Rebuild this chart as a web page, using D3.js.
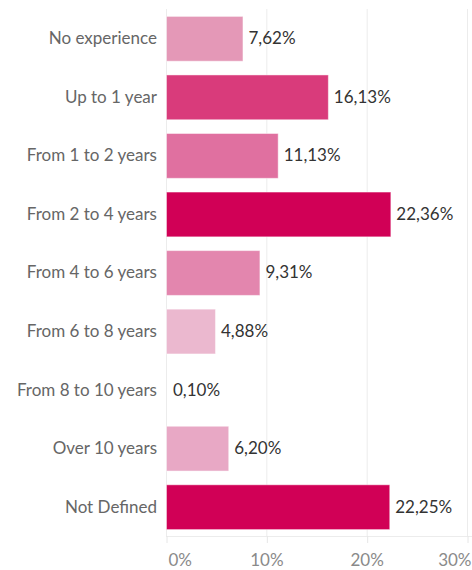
<!DOCTYPE html>
<html>
<head>
<meta charset="utf-8">
<script src="https://cdn.jsdelivr.net/npm/d3@7"></script>
<style>
  body { margin: 0; background: #fff; }
  svg text { font-family: Lato, "Open Sans", sans-serif; }
</style>
</head>
<body>
<div id="chart"></div>
<script>
// experience buckets, share of respondents (%)
var categories = ['No experience', 'Up to 1 year', 'From 1 to 2 years', 'From 2 to 4 years',
    'From 4 to 6 years', 'From 6 to 8 years', 'From 8 to 10 years', 'Over 10 years', 'Not Defined'];
var shares = [7.62, 16.13, 11.13, 22.36, 9.31, 4.88, 0.10, 6.20, 22.25];
var barColors = ['#e498b7', '#d93b7b', '#e070a0', '#d10056', '#e386ae', '#ebb8cf', '#edc3d6', '#e8a8c5', '#d10056'];
var xTicks = [0, 10, 20, 30];

var width = 472, height = 570;
var margin = { top: 9, right: 3, bottom: 34, left: 166 };

var locale = d3.formatLocale({ decimal: ',', thousands: '.', grouping: [3], currency: ['', ''] });
var fmt2 = locale.format('.2f');

var svg = d3.select('#chart').append('svg')
    .attr('width', width)
    .attr('height', height);

var x = d3.scaleLinear()
    .domain([0, 30])
    .range([margin.left, margin.left + 301]);

var y = d3.scaleBand()
    .domain(categories)
    .range([margin.top, height - margin.bottom])
    .paddingInner(0.235)
    .paddingOuter(0.118);

var g = svg.append('g');

// grid lines
g.selectAll('line.grid')
    .data(xTicks)
    .enter().append('line')
    .attr('class', 'grid')
    .attr('x1', function(d) { return x(d) + 0.5; })
    .attr('x2', function(d) { return x(d) + 0.5; })
    .attr('y1', margin.top)
    .attr('y2', height - margin.bottom)
    .attr('stroke', '#ececec')
    .attr('stroke-width', 1);

// baseline
g.append('line')
    .attr('x1', margin.left)
    .attr('x2', width)
    .attr('y1', height - margin.bottom + 0.5)
    .attr('y2', height - margin.bottom + 0.5)
    .attr('stroke', '#ececec');

// bars
g.selectAll('rect.bar')
    .data(shares)
    .enter().append('rect')
    .attr('class', 'bar')
    .attr('x', x(0) + 0.5)
    .attr('y', function(d, i) { return y(categories[i]) + 0.5; })
    .attr('width', function(d) { return d < 0.5 ? 0 : x(d) - x(0); })
    .attr('height', y.bandwidth())
    .attr('fill', function(d, i) { return barColors[i]; })
    .attr('stroke', 'rgba(255,255,255,0.45)')
    .attr('stroke-width', 1);

// value labels
g.selectAll('text.val')
    .data(shares)
    .enter().append('text')
    .attr('class', 'val')
    .attr('x', function(d) { return x(d) + 6; })
    .attr('y', function(d, i) { return y(categories[i]) + y.bandwidth() / 2; })
    .attr('dy', '0.35em')
    .attr('font-size', 17)
    .attr('fill', '#333')
    .text(function(d) { return fmt2(d) + '%'; });

// category labels
g.selectAll('text.cat')
    .data(categories)
    .enter().append('text')
    .attr('class', 'cat')
    .attr('x', margin.left - 9)
    .attr('y', function(d) { return y(d) + y.bandwidth() / 2; })
    .attr('dy', '0.35em')
    .attr('text-anchor', 'end')
    .attr('font-size', 17)
    .attr('fill', '#666')
    .text(function(d) { return d; });

// x axis
var xAxis = d3.axisBottom(x)
    .tickValues(xTicks)
    .tickSize(7)
    .tickFormat(function(d) { return d + '%'; });

var ax = svg.append('g')
    .attr('transform', 'translate(0,' + (height - margin.bottom) + ')')
    .call(xAxis);
ax.select('.domain').remove();
ax.selectAll('.tick line').attr('stroke', '#e6e6e6').attr('transform', 'translate(0.5,0)');
ax.selectAll('.tick text')
    .attr('y', 18)
    .attr('font-size', 17)
    .attr('fill', '#8a8a8a')
    .attr('text-anchor', function(d, i) { return i === 0 ? 'start' : (i === xTicks.length - 1 ? 'end' : 'middle'); })
    .attr('x', function(d, i) { return i === 0 ? 2 : (i === xTicks.length - 1 ? width - x(d) - 1 : 0); })
    .style('font-family', 'Lato, "Open Sans", sans-serif');
</script>
</body>
</html>
